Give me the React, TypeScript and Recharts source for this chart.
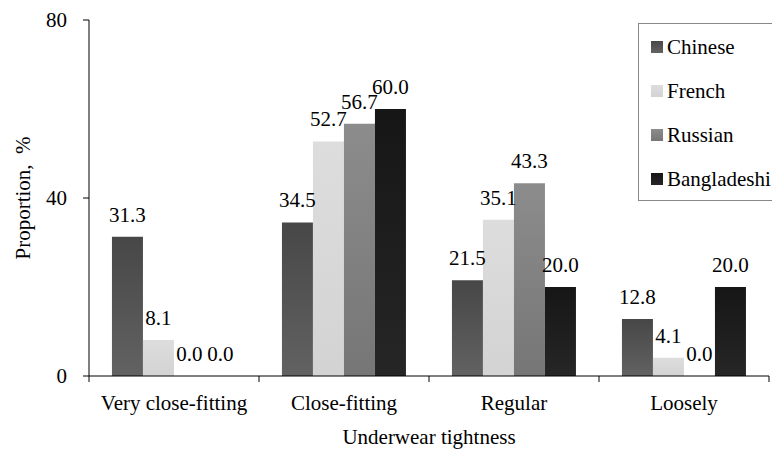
import React from 'react'
import { BarChart, Bar, XAxis, YAxis, Legend, LabelList } from 'recharts'

const categories = ['Very close-fitting', 'Close-fitting', 'Regular', 'Loosely']
const chinese = [31.3, 34.5, 21.5, 12.8]
const french = [8.1, 52.7, 35.1, 4.1]
const russian = [0.0, 56.7, 43.3, 0.0]
const bangladeshi = [0.0, 60.0, 20.0, 20.0]
const yTicks = [0, 40, 80]

const series = [
  { key: 'Chinese', top: '#474747', bottom: '#626262' },
  { key: 'French', top: '#dddddd', bottom: '#d3d3d3' },
  { key: 'Russian', top: '#8c8c8c', bottom: '#767676' },
  { key: 'Bangladeshi', top: '#161616', bottom: '#262626' },
]

const data = categories.map((name, i) => ({
  name,
  Chinese: chinese[i],
  French: french[i],
  Russian: russian[i],
  Bangladeshi: bangladeshi[i],
}))

const FONT = '"Liberation Serif", "Times New Roman", serif'
const FS = 21
const W = 772
const H = 450
const LEFT = 89
const RIGHT = 3
const BAND = (W - LEFT - RIGHT) / categories.length

// category label at the band centre, tick marks on the band edges
const CategoryTick = (props: any) => {
  const { x, y, payload, index } = props
  const half = BAND / 2
  return (
    <g>
      <line x1={x - half} y1={y - 8} x2={x - half} y2={y - 2} stroke='#000' />
      {index === categories.length - 1 && (
        <line x1={x + half} y1={y - 8} x2={x + half} y2={y - 2} stroke='#000' />
      )}
      <text x={x} y={y + 26} textAnchor='middle' fontSize={FS} fontFamily={FONT} fill='#000'>
        {payload.value}
      </text>
    </g>
  )
}

const LegendBox = () => (
  <div
    style={{
      border: '1px solid #888',
      width: 160,
      height: 178,
      boxSizing: 'border-box',
      padding: '1px 0 0 12px',
      background: '#fff',
      fontFamily: FONT,
      fontSize: FS,
      color: '#000',
    }}
  >
    {series.map((s) => (
      <div key={s.key} style={{ display: 'flex', alignItems: 'center', height: 44, whiteSpace: 'nowrap' }}>
        <span
          style={{
            width: 12,
            height: 12,
            marginRight: 4,
            flex: 'none',
            background: `linear-gradient(${s.top}, ${s.bottom})`,
          }}
        />
        <span>{s.key}</span>
      </div>
    ))}
  </div>
)

export default function App() {
  return (
    <div style={{ position: 'absolute', left: 0, top: 0, width: W, height: H, overflow: 'hidden', background: '#fff' }}>
      <BarChart
        width={W}
        height={H}
        data={data}
        margin={{ top: 20, right: RIGHT, left: 0, bottom: 0 }}
        barGap={0}
        barCategoryGap='13.5%'
      >
        <defs>
          {series.map((s) => (
            <linearGradient key={s.key} id={`grad-${s.key}`} x1='0' y1='0' x2='0' y2='1'>
              <stop offset='0%' stopColor={s.top} />
              <stop offset='100%' stopColor={s.bottom} />
            </linearGradient>
          ))}
        </defs>
        <XAxis
          dataKey='name'
          height={74}
          axisLine={{ stroke: '#000' }}
          tickLine={false}
          tick={<CategoryTick />}
          interval={0}
          label={{
            value: 'Underwear tightness',
            position: 'insideBottom',
            offset: 6,
            fontSize: FS,
            fontFamily: FONT,
            fill: '#000',
          }}
        />
        <YAxis
          width={LEFT}
          domain={[0, 80]}
          ticks={yTicks}
          axisLine={{ stroke: '#000' }}
          tickLine={{ stroke: '#000' }}
          tickSize={6}
          tickMargin={16}
          tick={{ fontSize: FS, fontFamily: FONT, fill: '#000' }}
          label={{
            value: 'Proportion,\u00a0\u00a0%',
            angle: -90,
            position: 'insideLeft',
            offset: 23,
            style: { textAnchor: 'middle' },
            fontSize: FS,
            fontFamily: FONT,
            fill: '#000',
          }}
        />
        <Legend
          layout='vertical'
          verticalAlign='middle'
          align='center'
          wrapperStyle={{ left: 638, top: 23, width: 160 }}
          content={<LegendBox />}
        />
        {series.map((s) => (
          <Bar
            key={s.key}
            dataKey={s.key}
            fill={`url(#grad-${s.key})`}
            minPointSize={0.01}
            isAnimationActive={false}
          >
            <LabelList
              dataKey={s.key}
              position='top'
              offset={15}
              formatter={(v: any) => Number(v).toFixed(1)}
              style={{ fontSize: FS, fontFamily: FONT, fill: '#000' }}
            />
          </Bar>
        ))}
      </BarChart>
    </div>
  )
}
